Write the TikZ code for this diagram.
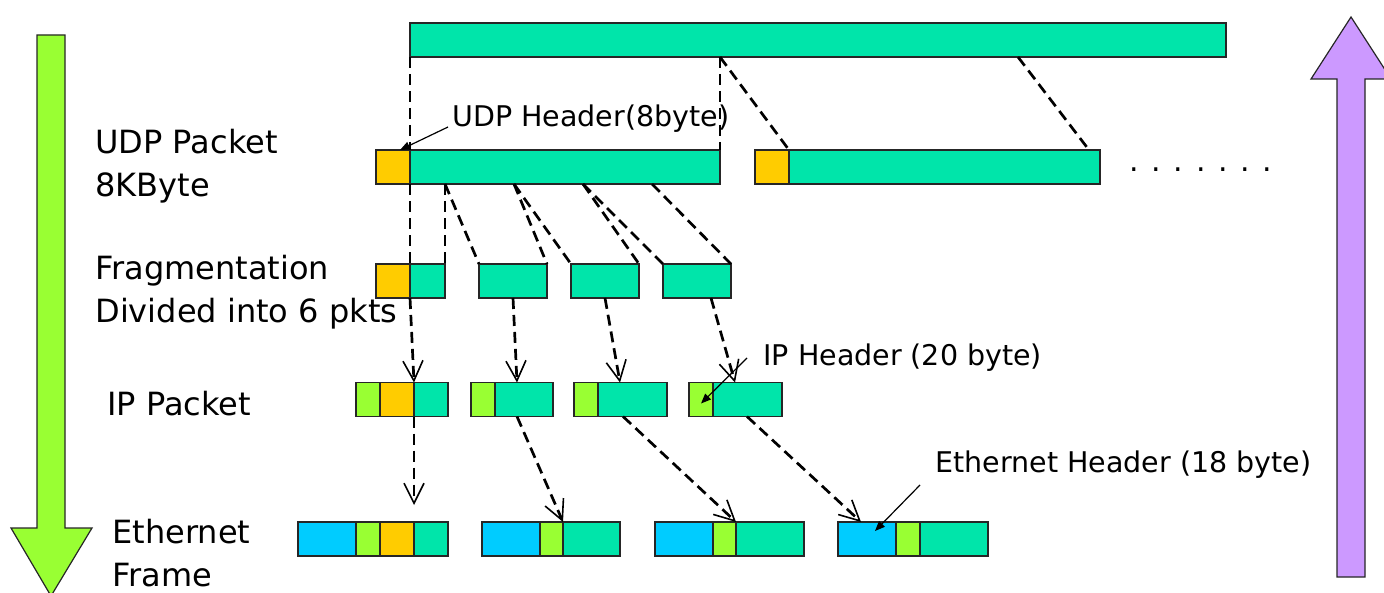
\documentclass[tikz,border=0pt]{standalone}
\usepackage{fontspec}
\setmainfont{DejaVu Sans}
\usetikzlibrary{positioning,arrows.meta}

\definecolor{pktgreen}{RGB}{0,229,170}
\definecolor{udpyellow}{RGB}{255,204,0}
\definecolor{iplime}{RGB}{153,255,51}
\definecolor{ethblue}{RGB}{0,204,255}
\definecolor{uplilac}{RGB}{204,153,255}

\begin{document}
\begin{tikzpicture}[x=0.5pt, y=-0.5pt,
	seg/.style = { draw=black!85, line width=0.7pt, minimum height=17pt,
			inner sep=0pt, outer sep=0pt, anchor=west },
	payload/.style = { seg, fill=pktgreen },
	udphead/.style = { seg, fill=udpyellow, minimum width=17pt },
	iphead/.style = { seg, fill=iplime, minimum width=12pt },
	ethhead/.style = { seg, fill=ethblue, minimum width=29pt },
	layerlbl/.style = { font=\fontsize{16}{21.75}\selectfont, align=left, inner sep=0pt },
	note/.style = { font=\fontsize{14.25}{17}\selectfont, inner sep=0pt, anchor=base west },
	bigarrow/.style = { draw=black!85, line width=0.6pt },
	split/.style = { dash pattern=on 5.5pt off 3pt, line width=1.35pt },
	flow/.style = { split, -{Straight Barb[length=10pt,width=10pt,line width=0.8pt]} },
	pointer/.style = { line width=0.6pt, -{Triangle[length=5pt,width=4pt]} }]

  \useasboundingbox (0,0) rectangle (1384,593);

  % layer arrows, down and up
  \draw[bigarrow, fill=iplime] (37,35) -- (65,35) -- (65,528) -- (92,528)
    -- (51,596) -- (11,528) -- (37,528) -- cycle;
  \draw[bigarrow, fill=uplilac] (1337,577) -- (1365,577) -- (1365,79) -- (1391,79)
    -- (1351,17) -- (1311,79) -- (1337,79) -- cycle;

  % layer labels
  \node[name=udplbl, layerlbl, anchor=west] at (95,166) {UDP Packet\\8KByte};
  \node[name=fraglbl, layerlbl, anchor=west] at (95,292) {Fragmentation\\Divided into 6 pkts};
  \node[name=iplbl, layerlbl, anchor=base west] at (107,415) {IP Packet};
  \node[name=ethlbl, layerlbl, anchor=west] at (112,553) {Ethernet\\Frame};

  % data block
  \node[name=blk, payload, minimum width=408pt] at (410,40) {};

  % UDP packets
  \node[name=u1h, udphead] at (376,167) {};
  \node[name=u1d, payload, minimum width=155pt, right=0pt of u1h] {};
  \node[name=u2h, udphead] at (755,167) {};
  \node[name=u2d, payload, minimum width=155.5pt, right=0pt of u2h] {};
  \node[name=more, anchor=base west, inner sep=0pt,
        font=\fontsize{15}{18}\selectfont] at (1129,172) {. . . . . . .};

  % fragments
  \node[name=f1h, udphead] at (376,281) {};
  \node[name=f1d, payload, minimum width=17.5pt, right=0pt of f1h] {};
  \node[name=f2, payload, minimum width=34pt] at (479,281) {};
  \node[name=f3, payload, minimum width=34pt] at (571,281) {};
  \node[name=f4, payload, minimum width=34pt] at (663,281) {};

  % IP packets
  \node[name=i1l, iphead] at (356,399.5) {};
  \node[name=i1h, udphead, right=0pt of i1l] {};
  \node[name=i1d, payload, minimum width=17pt, right=0pt of i1h] {};
  \node[name=i2l, iphead] at (471,399.5) {};
  \node[name=i2d, payload, minimum width=29pt, right=0pt of i2l] {};
  \node[name=i3l, iphead] at (574,399.5) {};
  \node[name=i3d, payload, minimum width=34.5pt, right=0pt of i3l] {};
  \node[name=i4l, iphead] at (689,399.5) {};
  \node[name=i4d, payload, minimum width=34.5pt, right=0pt of i4l] {};

  % Ethernet frames
  \node[name=e1b, ethhead] at (298,539) {};
  \node[name=e1l, iphead, right=0pt of e1b] {};
  \node[name=e1h, udphead, right=0pt of e1l] {};
  \node[name=e1d, payload, minimum width=17pt, right=0pt of e1h] {};
  \node[name=e2b, ethhead] at (482,539) {};
  \node[name=e2l, iphead, minimum width=11.5pt, right=0pt of e2b] {};
  \node[name=e2d, payload, minimum width=28.5pt, right=0pt of e2l] {};
  \node[name=e3b, ethhead] at (655,539) {};
  \node[name=e3l, iphead, minimum width=11.5pt, right=0pt of e3b] {};
  \node[name=e3d, payload, minimum width=34pt, right=0pt of e3l] {};
  \node[name=e4b, ethhead] at (838,539) {};
  \node[name=e4l, iphead, right=0pt of e4b] {};
  \node[name=e4d, payload, minimum width=34pt, right=0pt of e4l] {};

  % block -> UDP packets
  \draw[split] (blk.south west) -- (u1d.north west);
  \draw[split] (blk.south west -| u1d.north east) -- (u1d.north east);
  \draw[split] (blk.south west -| u1d.north east) -- (u2d.north west);
  \draw[split] ([xshift=304pt]blk.south west) -- ([xshift=-5.5pt]u2d.north east);

  % UDP packet -> fragments
  \draw[split] (u1d.south west) -- (f1d.north west);
  \draw[split] (u1d.south -| f1d.north east) -- (f1d.north east);
  \draw[split] (u1d.south -| f1d.north east) -- (f2.north west);
  \draw[split] ([xshift=52pt]u1d.south west) -- (f2.north east);
  \draw[split] ([xshift=52pt]u1d.south west) -- (f3.north west);
  \draw[split] ([xshift=86.5pt]u1d.south west) -- (f3.north east);
  \draw[split] ([xshift=86.5pt]u1d.south west) -- (f4.north west);
  \draw[split] ([xshift=121pt]u1d.south west) -- (f4.north east);

  % fragments -> IP packets
  \draw[flow] (f1d.south west) -- (i1d.north west);
  \draw[flow] (f2.south) -- ([xshift=11pt]i2d.north west);
  \draw[flow] (f3.south) -- ([xshift=11pt]i3d.north west);
  \draw[flow] ([xshift=24pt]f4.south west) -- ([xshift=11pt]i4d.north west);

  % IP packets -> Ethernet frames
  \draw[flow] (i1d.south west) -- ([yshift=8.5pt]e1d.north west);
  \draw[flow] ([xshift=11pt]i2d.south west) -- (e2d.north west);
  \draw[flow] ([xshift=12.5pt]i3d.south west) -- (e3d.north west);
  \draw[flow] ([xshift=17pt]i4d.south west) -- ([xshift=-3pt]e4b.north);

  % header notes
  \node[name=udpnote, note] at (452,127) {UDP Header(8byte)};
  \node[name=ipnote, note] at (763,365) {IP Header (20 byte)};
  \node[name=ethnote, note] at (935,472) {Ethernet Header (18 byte)};
  \draw[pointer] ([xshift=-2pt]udpnote.base west) -- ([xshift=-5pt]u1h.north east);
  \draw[pointer] ([xshift=-8pt,yshift=3.5pt]ipnote.base west) -- ([yshift=-2pt]i4l.center);
  \draw[pointer] ([xshift=-7.5pt,yshift=-6.5pt]ethnote.base west) -- ([xshift=4pt,yshift=4pt]e4b.center);
\end{tikzpicture}
\end{document}
